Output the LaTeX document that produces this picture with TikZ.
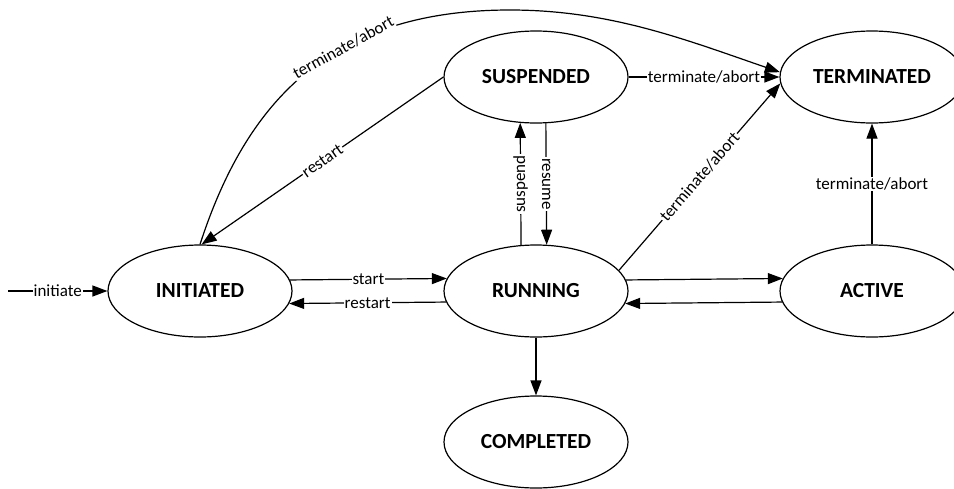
\documentclass[tikz,border=0pt]{standalone}
\usepackage{fontspec}
\setmainfont{Carlito}
\usetikzlibrary{arrows.meta, shapes.geometric}

\tikzset{
  state/.style={draw, ellipse, line width=1.2pt, minimum width=184pt,
    minimum height=92pt, inner sep=0pt, font=\fontsize{21.5}{25}\selectfont\bfseries},
  trans/.style={line width=1.2pt, -{Triangle[length=15pt,width=11pt]}},
  lbl/.style={fill=white, inner sep=1pt, font=\fontsize{17}{20}\selectfont}
}

\begin{document}
\begin{tikzpicture}[x=1pt, y=1pt]
  \useasboundingbox (0,0) rectangle (954,-488);

  % states
  \node[state] (ini)  at (200,-291) {INITIATED};
  \node[state] (susp) at (536,-77)  {SUSPENDED};
  \node[state] (term) at (872,-77)  {TERMINATED};
  \node[state] (run)  at (536,-291) {RUNNING};
  \node[state] (act)  at (872,-291) {ACTIVE};
  \node[state] (comp) at (536,-442) {COMPLETED};

  % entry point and the top of the long arc
  \coordinate (entry)  at (8,-291);
  \coordinate (arcTop) at (510,-10);

  % transitions
  \draw[trans] (entry) -- node[lbl] {initiate} (ini.west);
  \draw[trans] (ini.7.7) -- node[lbl] {start} (run.172.3);
  \draw[trans] (run.187.7) -- node[lbl] {restart} (ini.352.3);
  \draw[trans] (run.7.7) -- (act.172.3);
  \draw[trans] (act.187.7) -- (run.352.3);
  \draw[trans] (run.south) -- (comp.north);
  \draw[trans] (run.108.3) -- node[lbl, rotate=90] {suspend} (susp.251.7);
  \draw[trans] (susp.282.3) -- node[lbl, rotate=-90] {resume} (run.77.7);
  \draw[trans] (susp.east) -- node[lbl] {terminate/abort} (term.west);
  \draw[trans] (susp.180) -- node[lbl, sloped] {restart} (ini.88);
  \draw[trans] (run.14.3) -- node[lbl, sloped] {terminate/abort} (term.184);
  \draw[trans] (act.north) -- node[lbl] {terminate/abort} (term.south);
  \draw[trans] (ini.north) .. controls +(72:150) and +(180:180) .. (arcTop)
    node[lbl, sloped, pos=0.62] {terminate/abort}
    .. controls +(0:100) and +(161:100) .. (term.177);
\end{tikzpicture}
\end{document}
